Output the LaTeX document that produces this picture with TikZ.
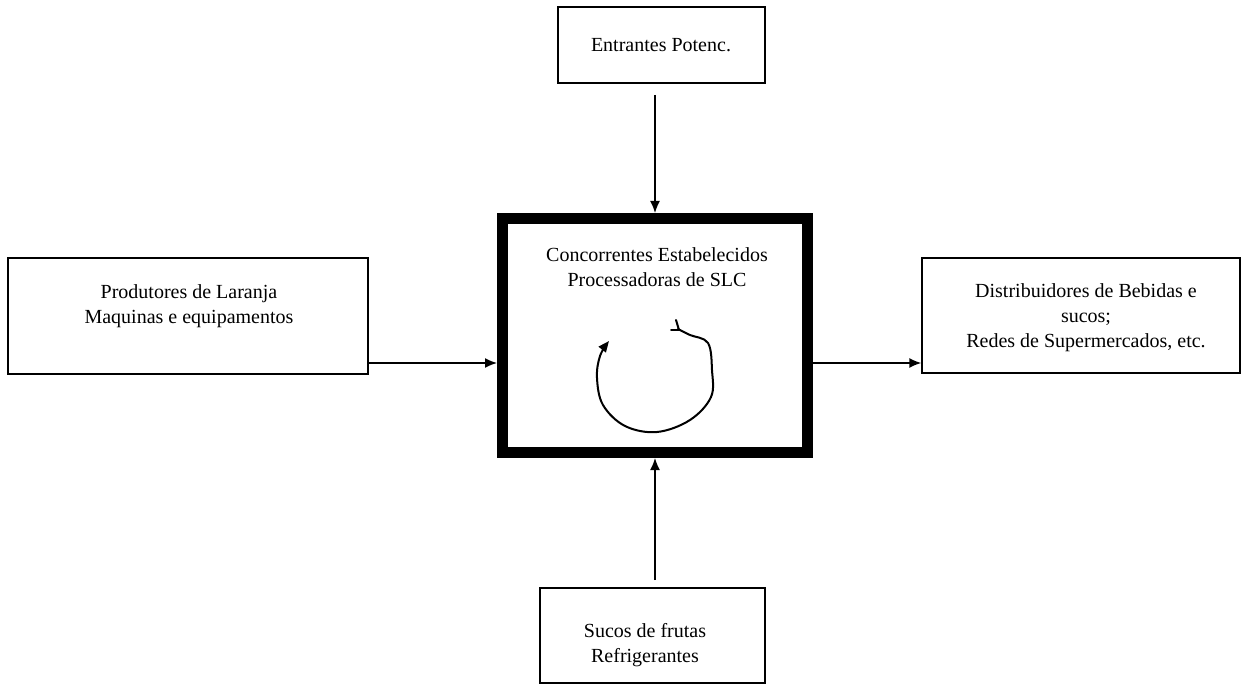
\documentclass[tikz,border=0pt]{standalone}
\usepackage{fontspec}
\setmainfont{Liberation Serif}
\newfontfamily\tnrfont{Liberation Serif}
\usetikzlibrary{arrows.meta}
\begin{document}
\begin{tikzpicture}[x=1pt,y=-1pt,
  box/.style={draw, line width=1.4pt, inner sep=0pt},
  bigbox/.style={draw, line width=11pt, inner sep=0pt},
  txt/.style={align=center, font=\tnrfont\fontsize{20}{25}\selectfont, inner sep=0pt},
  conn/.style={line width=1.5pt, -{Latex[length=12pt,width=10pt]}},
  loopline/.style={line width=2pt, line cap=round, line join=round},
]
\useasboundingbox (0,0) rectangle (1242,684);
% boxes
\node[box, minimum width=207pt, minimum height=76pt] (T) at (661.5,45) {};
\node[bigbox, minimum width=305pt, minimum height=234pt] (C) at (655,335.5) {};
\node[box, minimum width=360pt, minimum height=116pt] (L) at (188,316) {};
\node[box, minimum width=318pt, minimum height=115pt] (R) at (1081,315.5) {};
\node[box, minimum width=225pt, minimum height=95pt] (B) at (652.5,635.5) {};
% texts
\node[txt] (Tt) at (661,45) {Entrantes Potenc.};
\node[txt] (Ct) at (657,267) {Concorrentes Estabelecidos\\Processadoras de SLC};
\node[txt] (Lt) at (189,306) {Produtores de Laranja\\Maquinas e equipamentos};
\node[txt] (Rt) at (1086,318) {Distribuidores de Bebidas e\\sucos;\\Redes de Supermercados, etc.};
\node[txt] (Bt) at (645,645) {Sucos de frutas\\Refrigerantes};
% connectors
\coordinate (Ta) at (655,95);
\coordinate (La) at (L.east |- 0,363);
\coordinate (Ba) at (655,580);
\draw[conn] (Ta) -- (C.north);
\draw[conn] (La) -- (C.west |- La);
\draw[conn] (C.east |- La) -- (R.west |- La);
\draw[conn] (Ba) -- (C.south);
% loop
\draw[loopline, -{Triangle[length=11pt,width=9pt]}] plot[smooth, tension=0.6] coordinates {(678,329) (690,335) (708,343) (712,370) (711,397) (690,420) (657,432) (625,426) (603,405) (597,378) (600,356) (609,341)};
\draw[loopline] (676,320) -- (679,330);
\draw[loopline] (671,330) -- (680,330);
\end{tikzpicture}
\end{document}
